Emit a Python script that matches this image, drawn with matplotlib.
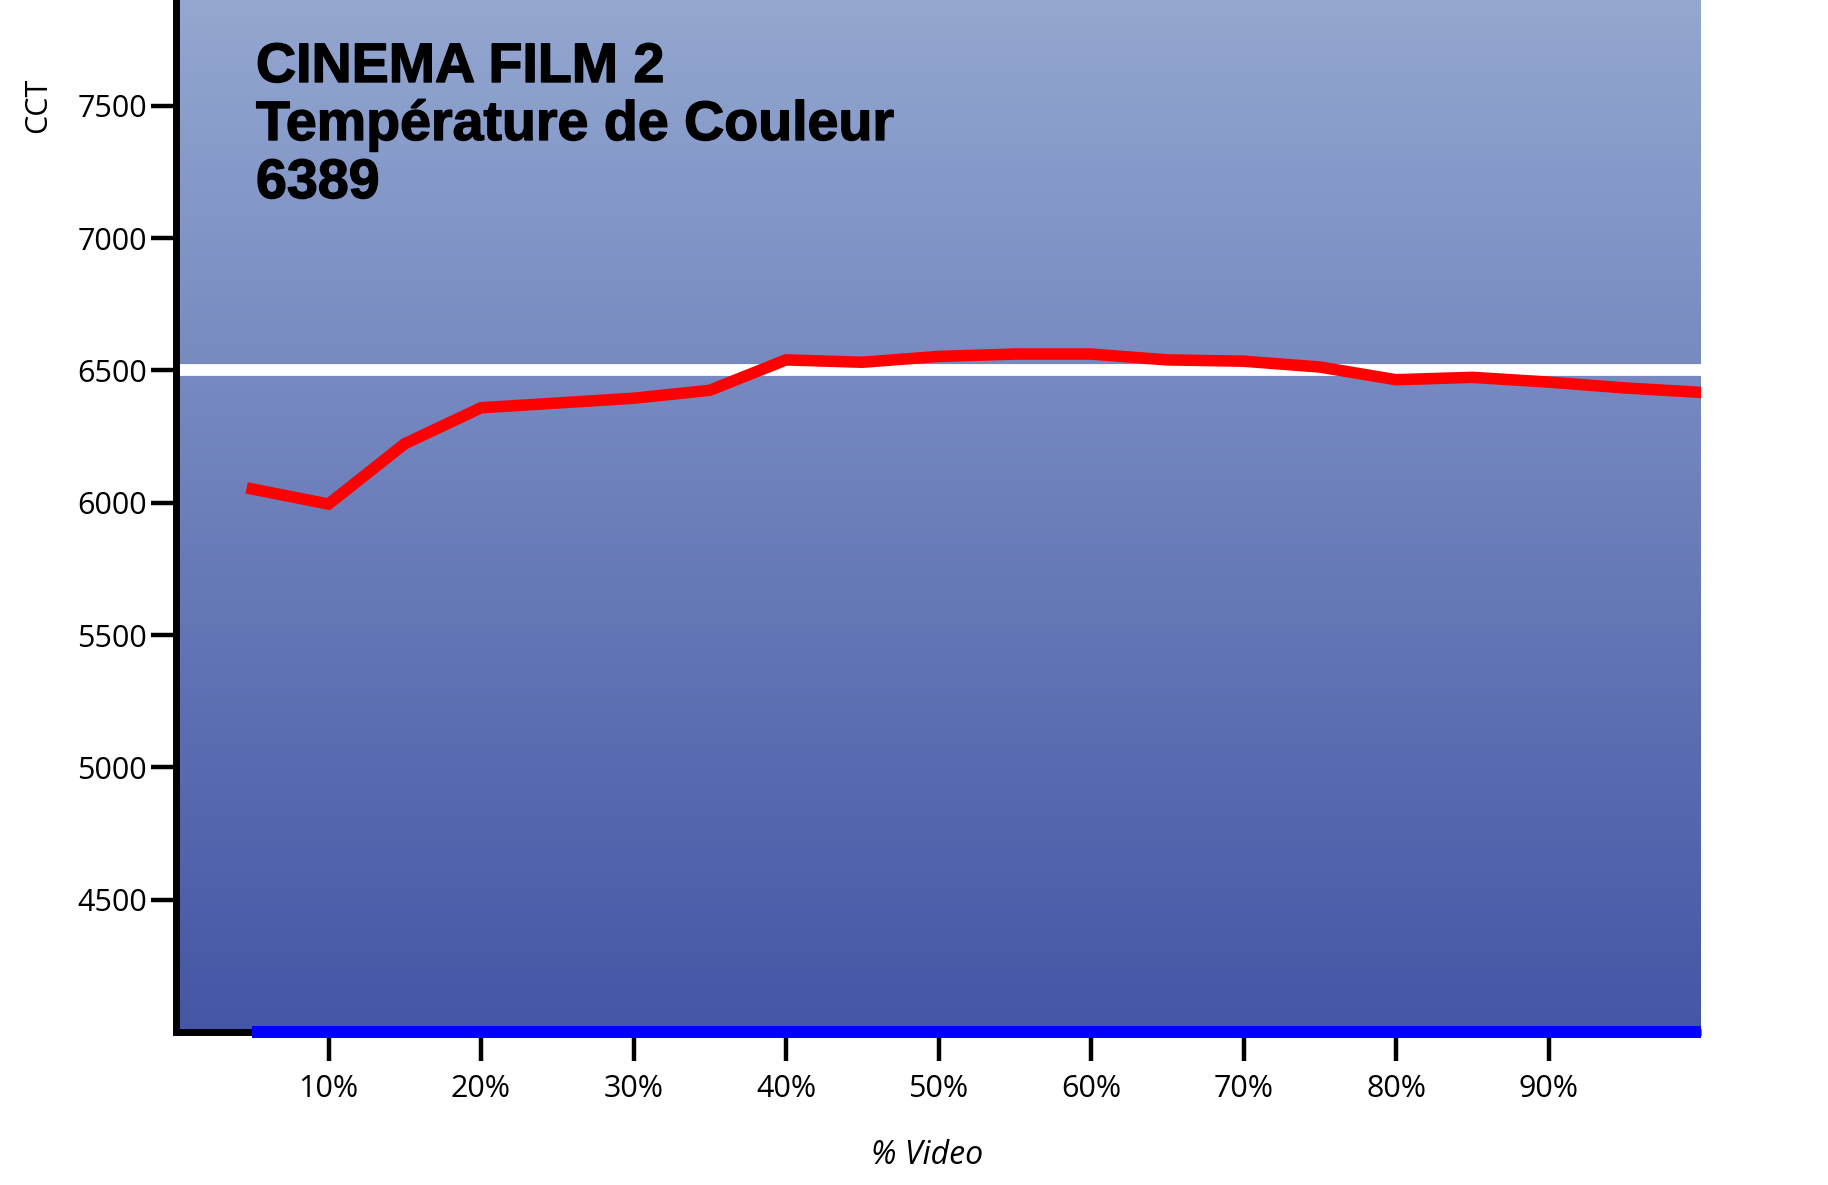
import numpy as np
import matplotlib.pyplot as plt
import matplotlib.patheffects as pe
from matplotlib.colors import LinearSegmentedColormap

# data
video_pct = [5, 10, 15, 20, 25, 30, 35, 40, 45, 50, 55, 60, 65, 70, 75, 80, 85, 90, 95, 100]
cct = [6052, 5995, 6223, 6359, 6377, 6395, 6425, 6540, 6531, 6553,
       6562, 6562, 6540, 6535, 6513, 6465, 6474, 6456, 6434, 6417]
target = 6500
x_ticks = [10, 20, 30, 40, 50, 60, 70, 80, 90]
x_labels = ['10%', '20%', '30%', '40%', '50%', '60%', '70%', '80%', '90%']
y_ticks = [4500, 5000, 5500, 6000, 6500, 7000, 7500]
title_lines = ['CINEMA FILM 2', 'Température de Couleur', '6389']

xmin, xmax = 0, 100
ymin, ymax = 4000, 7900

plt.rcParams['font.family'] = ['Open Sans', 'DejaVu Sans']

fig = plt.figure(figsize=(18.28, 11.85), dpi=100)
ax = fig.add_axes([176/1828, 1 - 1032/1185, (1701-176)/1828, 1032/1185])

# background gradient
cmap = LinearSegmentedColormap.from_list('bg', ['#4456a5', '#93a7d0'])
grad = np.linspace(0, 1, 256).reshape(-1, 1)
ax.imshow(grad, cmap=cmap, origin='lower', aspect='auto',
          extent=[xmin, xmax, ymin, ymax], zorder=0)

ax.plot([xmin, xmax], [target, target], color='white', lw=8.5, zorder=2,
        solid_capstyle='butt')
ax.plot(video_pct, cct, color='#ff0000', lw=8.3, zorder=3, solid_joinstyle='miter')
ax.plot([video_pct[0], xmax], [ymin, ymin], color='#0000ff', lw=8.6, zorder=5,
        clip_on=False, solid_capstyle='butt')

ax.set_xlim(xmin, xmax)
ax.set_ylim(ymin, ymax)

for s in ['top', 'right']:
    ax.spines[s].set_visible(False)
for s in ['left', 'bottom']:
    ax.spines[s].set_linewidth(5)
    ax.spines[s].set_color('black')
    ax.spines[s].set_zorder(4)
ax.spines['bottom'].set_capstyle('butt')

ax.set_xticks(x_ticks)
ax.set_xticklabels(x_labels)
ax.set_yticks(y_ticks)
ax.tick_params(axis='both', direction='out', width=3.2, color='black',
               labelsize=22)
ax.tick_params(axis='x', length=21, pad=9)
ax.tick_params(axis='y', length=18, pad=3)

fig.text(927/1828, 1 - 1155/1185, '% Video', fontsize=23, style='italic',
         ha='center', va='center')
fig.text(38/1828, 1 - 105/1185, 'CCT', rotation=90, fontsize=22,
         ha='center', va='center')

ax.text(256/1828, 1 - 42/1185, '\n'.join(title_lines), transform=fig.transFigure,
        fontsize=40, fontweight='bold', family='Liberation Sans',
        ha='left', va='top', linespacing=1.15, zorder=6,
        path_effects=[pe.withStroke(linewidth=1.0, foreground='black')])

fig.savefig('out.png', dpi=100)
